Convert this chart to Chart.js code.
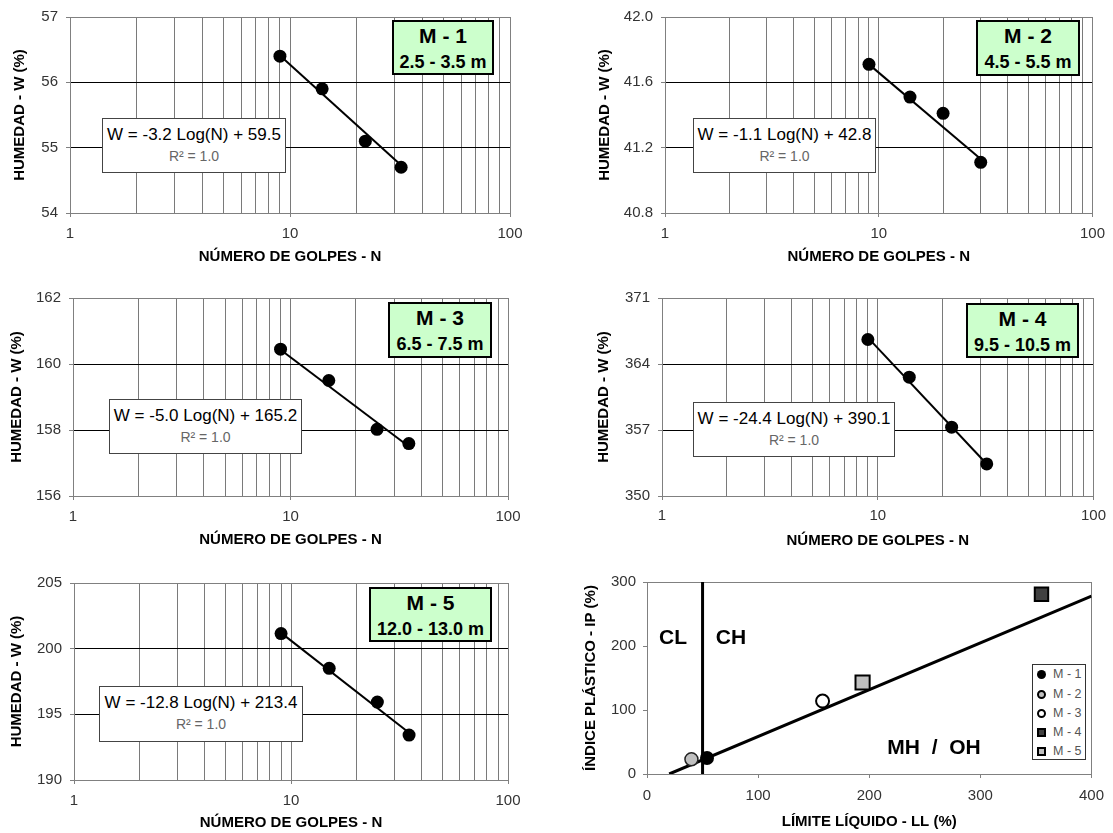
<!DOCTYPE html>
<html>
<head>
<meta charset="utf-8">
<script src="https://cdn.jsdelivr.net/npm/chart.js@4.4.1/dist/chart.umd.min.js"></script>
<style>
body { margin: 0; background: #fff; font-family: "Liberation Sans", Arial, sans-serif; }
#page { position: relative; width: 1113px; height: 833px; overflow: hidden; }
#page canvas { position: absolute; }
.muestra { position: absolute; box-sizing: border-box; background: #ccffcc; border: 2px solid #000; text-align: center; font-weight: bold; color: #000; white-space: nowrap; }
.muestra .t { position: absolute; left: 0; right: 0; top: 2px; font-size: 21px; line-height: 24px; }
.muestra .p { position: absolute; left: 0; right: 0; top: 30px; font-size: 18px; line-height: 20px; }
.ecuacion { position: absolute; box-sizing: border-box; background: #fff; border: 1px solid #444; text-align: center; white-space: nowrap; }
.ecuacion .e { position: absolute; left: 0; right: 0; top: 6px; font-size: 17px; line-height: 20px; color: #000; }
.ecuacion .r { position: absolute; left: 0; right: 0; top: 29px; font-size: 14px; line-height: 16px; color: #666; }
.zona { position: absolute; font-weight: bold; font-size: 21px; line-height: 24px; color: #000; white-space: pre; transform: translate(-50%, -50%); }
.leyenda { position: absolute; box-sizing: border-box; background: #fff; border: 1px solid #333; }
.leyenda .item { position: absolute; left: 20px; font-size: 12.5px; line-height: 14px; color: #555; white-space: nowrap; }
.leyenda .mk { position: absolute; box-sizing: border-box; }
</style>
</head>
<body>
<div id="page"></div>
<script>
// ---- datos ----
var ticksLog = [1, 2, 3, 4, 5, 6, 7, 8, 9, 10, 20, 30, 40, 50, 60, 70, 80, 90, 100];
var etiquetasLog = [1, 10, 100];

var golpes1 = [9, 14, 22, 32];
var humedad1 = [56.4, 55.9, 55.1, 54.7];
var extremos1 = [9, 32];
var tendencia1 = [56.41, 54.73];
var ticksY1 = [54, 55, 56, 57];

var golpes2 = [9, 14, 20, 30];
var humedad2 = [41.71, 41.51, 41.41, 41.11];
var extremos2 = [9, 30];
var tendencia2 = [41.71, 41.13];
var ticksY2 = [40.8, 41.2, 41.6, 42.0];

var golpes3 = [9, 15, 25, 35];
var humedad3 = [160.45, 159.5, 158.02, 157.59];
var extremos3 = [9, 35];
var tendencia3 = [160.43, 157.5];
var ticksY3 = [156, 158, 160, 162];

var golpes4 = [9, 14, 22, 32];
var humedad4 = [366.6, 362.6, 357.3, 353.4];
var extremos4 = [9, 32];
var tendencia4 = [366.8, 353.4];
var ticksY4 = [350, 357, 364, 371];

var golpes5 = [9, 15, 25, 35];
var humedad5 = [201.15, 198.5, 195.93, 193.42];
var extremos5 = [9, 35];
var tendencia5 = [201.2, 193.6];
var ticksY5 = [190, 195, 200, 205];

var muestras = ['M - 1', 'M - 2', 'M - 3', 'M - 4', 'M - 5'];
var profundidades = ['2.5 - 3.5 m', '4.5 - 5.5 m', '6.5 - 7.5 m', '9.5 - 10.5 m', '12.0 - 13.0 m'];
var ecuaciones = ['W = -3.2 Log(N) + 59.5', 'W = -1.1 Log(N) + 42.8', 'W = -5.0 Log(N) + 165.2',
                  'W = -24.4 Log(N) + 390.1', 'W = -12.8 Log(N) + 213.4'];
var limiteLiquido = [54, 40, 158, 355, 194];
var indicePlastico = [25, 23, 114, 281, 143];
var lineaA_LL = [20, 400];
var lineaA_IP = [0, 278];
var lineaB_LL = [50, 50];
var lineaB_IP = [0, 300];
var ticksLL = [0, 100, 200, 300, 400];
var ticksIP = [0, 100, 200, 300];

Chart.defaults.font.family = '"Liberation Sans", Arial, sans-serif';

var page = document.getElementById('page');

// gray frame around the plot area
var marco = {
	id: 'marco',
	beforeDatasetsDraw: function(chart) {
		var a = chart.chartArea, ctx = chart.ctx;
		ctx.save();
		ctx.strokeStyle = '#808080';
		ctx.lineWidth = 1;
		ctx.strokeRect(Math.round(a.left) + 0.5, Math.round(a.top) + 0.5,
			Math.round(a.right) - Math.round(a.left), Math.round(a.bottom) - Math.round(a.top));
		ctx.restore();
	}
};

var lienzo = function(caja) {
	var cv = document.createElement('canvas');
	cv.width = caja[2];
	cv.height = caja[3];
	cv.style.left = caja[0] + 'px';
	cv.style.top = caja[1] + 'px';
	page.appendChild(cv);
	return cv;
};

var puntos = function(xs, ys) {
	return xs.map(function(x, i) { return {x: x, y: ys[i]}; });
};

var div = function(cls, pos, html) {
	var d = document.createElement('div');
	d.className = cls;
	d.style.left = pos[0] + 'px';
	d.style.top = pos[1] + 'px';
	if (pos.length > 2) {
		d.style.width = pos[2] + 'px';
		d.style.height = pos[3] + 'px';
	}
	d.innerHTML = html || '';
	page.appendChild(d);
	return d;
};

var paneles = [
	{caja: [0, 0, 556, 280], area: [70, 16, 510, 213], tituloY: 20, etiquetaX: 233, tituloX: 257,
	 golpes: golpes1, humedad: humedad1, extremos: extremos1, tendencia: tendencia1, ticksY: ticksY1, dec: 0,
	 muestra: [392, 20, 102, 55], ecuacion: [102, 118, 184, 55]},
	{caja: [556, 0, 557, 280], area: [665, 16, 1096, 213], tituloY: 605, etiquetaX: 233, tituloX: 257,
	 golpes: golpes2, humedad: humedad2, extremos: extremos2, tendencia: tendencia2, ticksY: ticksY2, dec: 1,
	 muestra: [976, 20, 104, 56], ecuacion: [693, 118, 183, 55]},
	{caja: [0, 280, 556, 275], area: [73, 298, 508, 496], tituloY: 17, etiquetaX: 516, tituloX: 540,
	 golpes: golpes3, humedad: humedad3, extremos: extremos3, tendencia: tendencia3, ticksY: ticksY3, dec: 0,
	 muestra: [388, 302, 104, 56], ecuacion: [109, 399, 193, 55]},
	{caja: [556, 280, 557, 275], area: [662, 298, 1096, 496], tituloY: 604, etiquetaX: 515, tituloX: 541,
	 golpes: golpes4, humedad: humedad4, extremos: extremos4, tendencia: tendencia4, ticksY: ticksY4, dec: 0,
	 muestra: [966, 303, 113, 55], ecuacion: [693, 402, 202, 55]},
	{caja: [0, 555, 556, 278], area: [74, 583, 508, 780], tituloY: 17, etiquetaX: 800, tituloX: 823,
	 golpes: golpes5, humedad: humedad5, extremos: extremos5, tendencia: tendencia5, ticksY: ticksY5, dec: 0,
	 muestra: [369, 587, 123, 55], ecuacion: [99, 686, 204, 56]}
];

paneles.forEach(function(p, n) {
	var b = p.caja, a = p.area;
	new Chart(lienzo(b), {
		type: 'scatter',
		data: {
			datasets: [{
				data: puntos(p.golpes, p.humedad),
				pointRadius: 6.5, pointHoverRadius: 6.5,
				pointBackgroundColor: '#000', pointBorderColor: '#000', pointBorderWidth: 0
			}, {
				type: 'line',
				data: puntos(p.extremos, p.tendencia),
				borderColor: '#000', borderWidth: 2, pointRadius: 0, fill: false, tension: 0
			}]
		},
		options: {
			responsive: false, animation: false, events: [],
			layout: {padding: {top: a[1] - b[1], right: b[0] + b[2] - a[2], left: 0, bottom: 0}},
			plugins: {legend: {display: false}, tooltip: {enabled: false}},
			scales: {
				x: {
					type: 'logarithmic', min: 1, max: 100,
					afterBuildTicks: function(s) { s.ticks = ticksLog.map(function(v) { return {value: v}; }); },
					afterFit: function(s) { s.height = b[1] + b[3] - a[3]; },
					grid: {color: '#7a7a7a', lineWidth: 1, tickLength: 4,
						tickColor: function(c) { return c.tick && etiquetasLog.indexOf(c.tick.value) >= 0 ? '#808080' : 'rgba(0,0,0,0)'; }},
					border: {color: '#808080'},
					ticks: {autoSkip: false, maxRotation: 0, padding: p.etiquetaX - a[3] - 12, color: '#333', font: {size: 15},
						callback: function(v) { return etiquetasLog.indexOf(v) >= 0 ? String(v) : ''; }},
					title: {display: true, text: 'NÚMERO DE GOLPES - N', color: '#000', font: {size: 15, weight: 'bold'},
						padding: {top: 0, bottom: b[1] + b[3] - p.tituloX - 9}}
				},
				y: {
					min: p.ticksY[0], max: p.ticksY[p.ticksY.length - 1],
					afterBuildTicks: function(s) { s.ticks = p.ticksY.map(function(v) { return {value: v}; }); },
					afterFit: function(s) { s.width = a[0] - b[0]; },
					grid: {color: '#000', lineWidth: 1, tickLength: 4, tickColor: '#808080'},
					border: {color: '#808080'},
					ticks: {padding: 8, color: '#333', font: {size: 15},
						callback: function(v) { return Number(v).toFixed(p.dec); }},
					title: {display: true, text: 'HUMEDAD - W (%)', color: '#000', font: {size: 15, weight: 'bold'},
						padding: {top: p.tituloY - b[0] - 9, bottom: 0}}
				}
			}
		},
		plugins: [marco]
	});

	div('muestra', p.muestra, '<div class="t">' + muestras[n] + '</div><div class="p">' + profundidades[n] + '</div>');
	div('ecuacion', p.ecuacion, '<div class="e">' + ecuaciones[n] + '</div><div class="r">R² = 1.0</div>');
});

// ---- carta de plasticidad ----
var estilos = [
	{pointStyle: 'circle', fondo: '#000', borde: '#000', ancho: 0, radio: 7},
	{pointStyle: 'circle', fondo: '#c0c0c0', borde: '#222', ancho: 1.5, radio: 6.5},
	{pointStyle: 'circle', fondo: '#fff', borde: '#000', ancho: 2, radio: 6.5},
	{pointStyle: 'rect', fondo: '#404040', borde: '#000', ancho: 2, radio: 9.5},
	{pointStyle: 'rect', fondo: '#c0c0c0', borde: '#000', ancho: 2, radio: 10}
];

var caja6 = [556, 555, 557, 278], area6 = [647, 582, 1096, 774];

var series6 = muestras.map(function(m, i) {
	var e = estilos[i];
	return {
		label: m,
		data: [{x: limiteLiquido[i], y: indicePlastico[i]}],
		pointStyle: e.pointStyle, pointRadius: e.radio, pointHoverRadius: e.radio,
		pointBackgroundColor: e.fondo, pointBorderColor: e.borde, pointBorderWidth: e.ancho
	};
});
series6.push({type: 'line', data: puntos(lineaA_LL, lineaA_IP), borderColor: '#000', borderWidth: 3, pointRadius: 0, fill: false});
series6.push({type: 'line', data: puntos(lineaB_LL, lineaB_IP), borderColor: '#000', borderWidth: 3, pointRadius: 0, fill: false});

new Chart(lienzo(caja6), {
	type: 'scatter',
	data: {datasets: series6},
	options: {
		responsive: false, animation: false, events: [],
		layout: {padding: {top: area6[1] - caja6[1], right: caja6[0] + caja6[2] - area6[2], left: 0, bottom: 0}},
		plugins: {legend: {display: false}, tooltip: {enabled: false}},
		scales: {
			x: {
				min: 0, max: 400,
				afterBuildTicks: function(s) { s.ticks = ticksLL.map(function(v) { return {value: v}; }); },
				afterFit: function(s) { s.height = caja6[1] + caja6[3] - area6[3]; },
				grid: {drawOnChartArea: false, tickLength: 4, tickColor: '#808080'},
				border: {color: '#808080'},
				ticks: {maxRotation: 0, padding: 9, color: '#333', font: {size: 15}},
				title: {display: true, text: 'LÍMITE LÍQUIDO - LL (%)', color: '#000', font: {size: 15, weight: 'bold'},
					padding: {top: 0, bottom: caja6[1] + caja6[3] - 822 - 9}}
			},
			y: {
				min: 0, max: 300,
				afterBuildTicks: function(s) { s.ticks = ticksIP.map(function(v) { return {value: v}; }); },
				afterFit: function(s) { s.width = area6[0] - caja6[0]; },
				grid: {drawOnChartArea: false, tickLength: 4, tickColor: '#808080'},
				border: {color: '#808080'},
				ticks: {padding: 7, color: '#333', font: {size: 15}},
				title: {display: true, text: 'ÍNDICE PLÁSTICO - IP (%)', color: '#000', font: {size: 15, weight: 'bold'},
					padding: {top: 591 - caja6[0] - 9, bottom: 0}}
			}
		}
	},
	plugins: [marco]
});

div('zona', [673, 637], 'CL');
div('zona', [731, 637], 'CH');
div('zona', [934, 747], 'MH  /  OH');

var ley = div('leyenda', [1032, 664, 54, 96]);
var filas = [10, 30, 49, 68, 87];
muestras.forEach(function(m, i) {
	var e = estilos[i];
	var mk = document.createElement('div');
	mk.className = 'mk';
	mk.style.width = '9px';
	mk.style.height = '9px';
	mk.style.left = '4px';
	mk.style.top = (filas[i] - 5.5) + 'px';
	mk.style.background = e.fondo;
	mk.style.border = (i === 0 ? 0 : 2) + 'px solid #000';
	mk.style.borderRadius = e.pointStyle === 'circle' ? '50%' : '0';
	ley.appendChild(mk);
	var it = document.createElement('div');
	it.className = 'item';
	it.style.top = (filas[i] - 8) + 'px';
	it.textContent = m;
	ley.appendChild(it);
});
</script>
</body>
</html>
